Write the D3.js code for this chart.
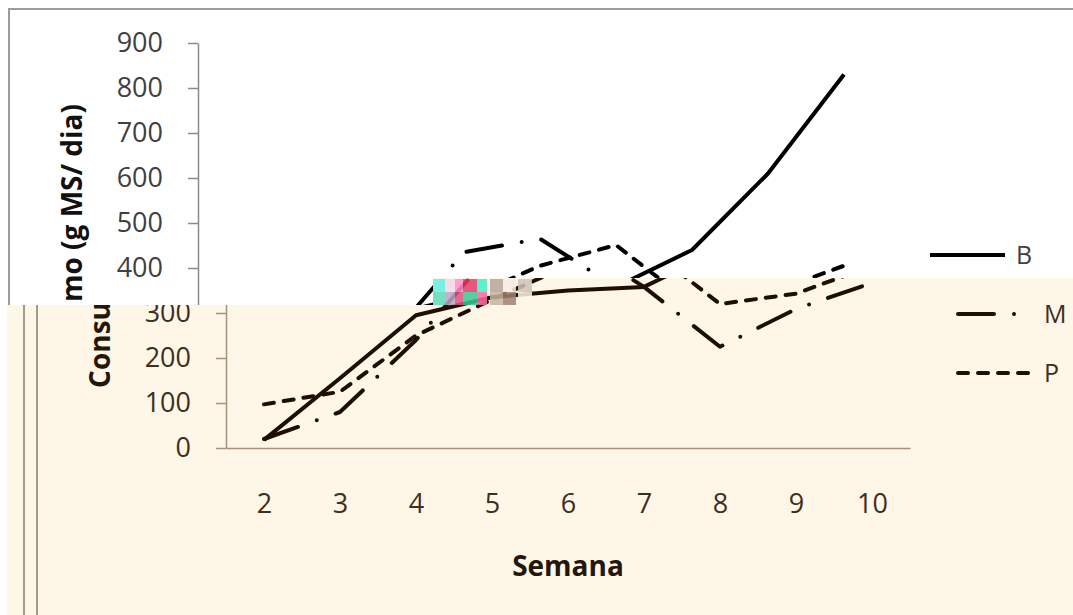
<!DOCTYPE html>
<html><head><meta charset="utf-8">
<script src="https://cdn.jsdelivr.net/npm/d3@7"></script>
<style>body{margin:0;background:#fff;} svg{display:block}</style>
</head><body>
<svg id="c" width="1073" height="615"></svg>
<script>
// ---- data ----
const weeks = ["2","3","4","5","6","7","8","9","10"];
const serieB = [18, 155, 295, 335, 350, 358, 440, 610, 830];
const serieM = [20, 80, 240, 435, 465, 358, 225, 309, 367];
const serieP = [97, 125, 250, 330, 405, 451, 320, 343, 405];
const yTicks = [0, 100, 200, 300, 400, 500, 600, 700, 800, 900];
const seriesNames = ["B", "M", "P"];
const yTitle = "Consumo (g MS/ dia)";
const xTitle = "Semana";

const seriesValues = {B: serieB, M: serieM, P: serieP};
const dashes = {B: null, M: "36,20,0,20", P: "10,10"};

const svg = d3.select("#c");
const x = d3.scalePoint().domain(weeks).range([198, 882]).padding(0.5);
const y = d3.scaleLinear().domain([0, 900]).range([448, 43]);
const legendY = d3.scalePoint().domain(seriesNames).range([255, 373]);

const topTheme = {line:"#000000", text:"#404040", title:"#111111", axis:"#8a8a8a", frame:"#9c9c9c"};
const botTheme = {line:"#1e0e04", text:"#3e2e1e", title:"#24160a", axis:"#a6917c", frame:"#a99886"};

const titleFont = g => g.style("font-family", "'Open Sans'").style("font-weight", "bold").style("font-size", "28px");

// measure the full y title once, so it can be split at the seam
const probe = svg.append("text").call(titleFont).text(yTitle);
const titleLen = probe.node().getComputedTextLength();
probe.remove();
const cut = 5; // "Consu" | "mo (g MS/ dia)"

// opt: which parts are visible in this layer
function drawChart(g, th, opt) {
  g.append("path").attr("d", "M9,700 V9 H1100").attr("fill", "none")
    .attr("stroke", th.frame).attr("stroke-width", 2);

  const gy = g.append("g").attr("transform", "translate(198,0)")
    .call(d3.axisLeft(y).tickValues(yTicks).tickSize(10).tickSizeOuter(0).tickPadding(25));
  gy.selectAll("path,line").attr("stroke", th.axis).attr("stroke-width", 1.5);
  gy.selectAll("text").filter(d => !opt.yLab(d)).remove();
  gy.selectAll("text").attr("fill", th.text).style("font-family", "'Open Sans'").style("font-size", "27px");

  const gx = g.append("g").attr("transform", "translate(0,448)")
    .call(d3.axisBottom(x).tickSize(0).tickSizeOuter(0).tickPadding(46));
  gx.selectAll("path").attr("stroke", th.axis).attr("stroke-width", 1.5);
  if (opt.xLab) {
    gx.selectAll("text").attr("fill", th.text).style("font-family", "'Open Sans'").style("font-size", "27px");
  } else {
    gx.selectAll("text").remove();
  }

  const tt = g.append("text").attr("transform", "translate(82,246) rotate(-90)")
    .attr("fill", th.title).call(titleFont);
  if (opt.titleTop) {
    tt.attr("x", titleLen / 2).attr("text-anchor", "end").text(yTitle.slice(cut));
  } else {
    tt.attr("x", -titleLen / 2).attr("text-anchor", "start").text(yTitle.slice(0, cut));
  }

  if (opt.xTitle) {
    g.append("text").attr("x", (198 + 882) / 2).attr("y", 576)
      .attr("text-anchor", "middle").attr("fill", th.title).call(titleFont)
      .text(xTitle);
  }

  const line = d3.line().x((d, i) => x(weeks[i])).y(d => y(d));
  seriesNames.forEach(n => {
    g.append("path").datum(seriesValues[n]).attr("d", line)
      .attr("fill", "none").attr("stroke", th.line).attr("stroke-width", 4)
      .attr("stroke-linejoin", "round").attr("stroke-linecap", n === "B" ? "butt" : "round")
      .attr("stroke-dasharray", dashes[n]);
    const ly = legendY(n);
    g.append("line").attr("x1", 930).attr("x2", 1005).attr("y1", ly).attr("y2", ly)
      .attr("stroke", th.line).attr("stroke-width", 4)
      .attr("stroke-linecap", n === "B" ? "butt" : "round")
      .attr("stroke-dasharray", dashes[n]);
    if (opt.legend.includes(n)) {
      g.append("text").attr("x", 1016).attr("y", ly).attr("dy", "0.36em")
        .attr("fill", th.text).style("font-family", "'Open Sans'").style("font-size", "25px")
        .text(n);
    }
  });
}

const defs = svg.append("defs");
defs.append("clipPath").attr("id", "topClip").append("polygon")
  .attr("points", "0,0 1073,0 1073,278 433,278 433,305 0,305");
defs.append("clipPath").attr("id", "botClip").append("polygon")
  .attr("points", "0,305 433,305 433,278 1073,278 1073,615 0,615");

// top (undamaged) part
const topG = svg.append("g").attr("clip-path", "url(#topClip)");
topG.append("rect").attr("width", 1073).attr("height", 615).attr("fill", "#ffffff");
drawChart(topG.append("g"), topTheme,
  {yLab: d => d >= 400, xLab: false, titleTop: true, xTitle: false, legend: ["B"]});

// bottom (shifted, tinted) part
const botG = svg.append("g").attr("clip-path", "url(#botClip)");
botG.append("rect").attr("x", 7).attr("width", 1066).attr("height", 615).attr("fill", "#fef6e6");
drawChart(botG.append("g").attr("transform", "translate(28,0)"), botTheme,
  {yLab: d => d <= 300, xLab: true, titleTop: false, xTitle: true, legend: ["M", "P"]});
botG.append("line").attr("x1", 24).attr("x2", 24).attr("y1", 0).attr("y2", 615)
  .attr("stroke", botTheme.frame).attr("stroke-width", 2);

// glitch blocks at the seam
const glitch = [
  [433,279,12,13,"#63efe0"],[433,292,12,13,"#5fd9b8"],
  [445,279,10,13,"#f2d8e6"],[445,292,10,13,"#b9a4c8"],
  [455,279,8,13,"#ff8fc8"],[455,292,8,13,"#e05080"],
  [463,279,14,13,"#e83a6a"],[463,292,14,13,"#38c890"],
  [477,279,10,13,"#40f0c8"],[477,292,10,13,"#ff6aa0"],
  [490,279,13,13,"#b5a496"],[490,292,13,13,"#c8b4a0"],
  [503,279,13,13,"#f4ece4"],[503,292,13,13,"#a08070"],
  [518,279,14,13,"#cfc2b6"],[518,292,14,13,"#fef6e6"]
];
svg.append("g").selectAll("rect").data(glitch).join("rect")
  .attr("x", d => d[0]).attr("y", d => d[1]).attr("width", d => d[2]).attr("height", d => d[3])
  .attr("fill", d => d[4]).attr("opacity", 0.85);
</script>
</body></html>
